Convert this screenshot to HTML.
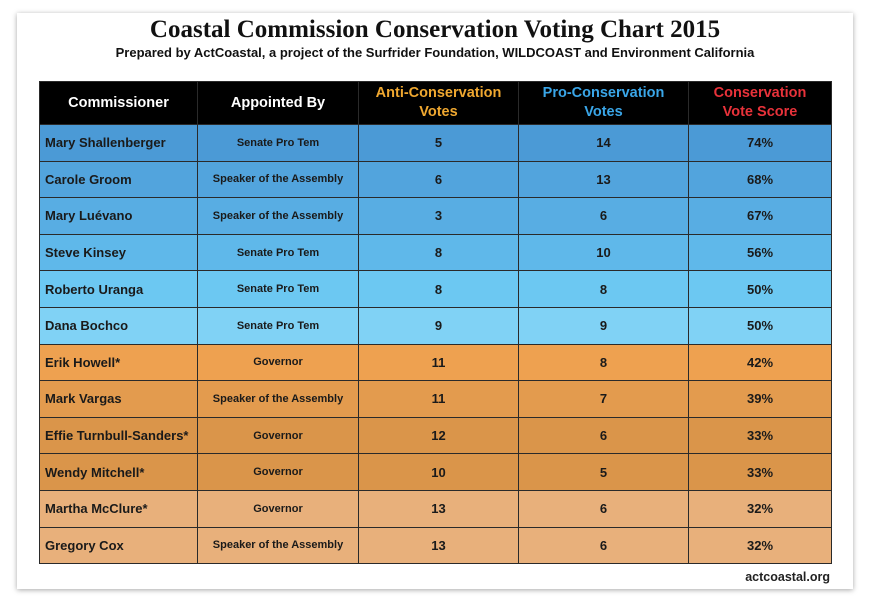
<!DOCTYPE html>
<html><head><style>
body{margin:0;width:870px;height:610px;background:#fff;font-family:"Liberation Sans",sans-serif;position:relative;overflow:hidden}
.card{position:absolute;left:17px;top:13px;width:836px;height:576px;background:#fff;box-shadow:0 1px 5px rgba(0,0,0,.35)}
h1{position:absolute;left:0;width:870px;top:16px;margin:0;text-align:center;font-family:"Liberation Serif",serif;font-weight:bold;font-size:25px;color:#111}
.sub{position:absolute;left:0;width:870px;top:45px;text-align:center;font-size:13px;font-weight:bold;color:#111}
table{position:absolute;left:39px;top:81px;border-collapse:collapse;table-layout:fixed}
td,th{border:1px solid #2a2a2a;padding:0;text-align:center;font-weight:bold;color:#1a1a1a;height:35.6px}
th{background:#000;color:#fff;font-size:14.5px;height:42px;line-height:19px}
td{font-size:13px}
td.n{text-align:left;padding-left:5px;font-size:13px;white-space:nowrap;overflow:hidden}
td.a{font-size:11px}
.foot{position:absolute;right:40px;top:570px;font-size:12.5px;font-weight:bold;color:#222}
</style></head><body>
<div class="card"></div>
<h1>Coastal Commission Conservation Voting Chart 2015</h1>
<div class="sub">Prepared by ActCoastal, a project of the Surfrider Foundation, WILDCOAST and Environment California</div>
<table>
<colgroup><col style="width:158px"><col style="width:161px"><col style="width:160px"><col style="width:170px"><col style="width:143px"></colgroup>
<tr><th>Commissioner</th><th>Appointed By</th><th style="color:#f0a830">Anti-Conservation<br>Votes</th><th style="color:#3aa6e8">Pro-Conservation<br>Votes</th><th style="color:#e8323a">Conservation<br>Vote Score</th></tr>
<tr style="background:#4b9ad6"><td class="n">Mary Shallenberger</td><td class="a">Senate Pro Tem</td><td>5</td><td>14</td><td>74%</td></tr>
<tr style="background:#52a4dd"><td class="n">Carole Groom</td><td class="a">Speaker of the Assembly</td><td>6</td><td>13</td><td>68%</td></tr>
<tr style="background:#58ade3"><td class="n">Mary Luévano</td><td class="a">Speaker of the Assembly</td><td>3</td><td>6</td><td>67%</td></tr>
<tr style="background:#5fb8ea"><td class="n">Steve Kinsey</td><td class="a">Senate Pro Tem</td><td>8</td><td>10</td><td>56%</td></tr>
<tr style="background:#6cc8f2"><td class="n">Roberto Uranga</td><td class="a">Senate Pro Tem</td><td>8</td><td>8</td><td>50%</td></tr>
<tr style="background:#80d2f5"><td class="n">Dana Bochco</td><td class="a">Senate Pro Tem</td><td>9</td><td>9</td><td>50%</td></tr>
<tr style="background:#eea150"><td class="n">Erik Howell*</td><td class="a">Governor</td><td>11</td><td>8</td><td>42%</td></tr>
<tr style="background:#e39b4e"><td class="n">Mark Vargas</td><td class="a">Speaker of the Assembly</td><td>11</td><td>7</td><td>39%</td></tr>
<tr style="background:#da954a"><td class="n">Effie Turnbull-Sanders*</td><td class="a">Governor</td><td>12</td><td>6</td><td>33%</td></tr>
<tr style="background:#da954a"><td class="n">Wendy Mitchell*</td><td class="a">Governor</td><td>10</td><td>5</td><td>33%</td></tr>
<tr style="background:#e8b07b"><td class="n">Martha McClure*</td><td class="a">Governor</td><td>13</td><td>6</td><td>32%</td></tr>
<tr style="background:#e8b07b"><td class="n">Gregory Cox</td><td class="a">Speaker of the Assembly</td><td>13</td><td>6</td><td>32%</td></tr>
</table>
<div class="foot">actcoastal.org</div>
</body></html>
